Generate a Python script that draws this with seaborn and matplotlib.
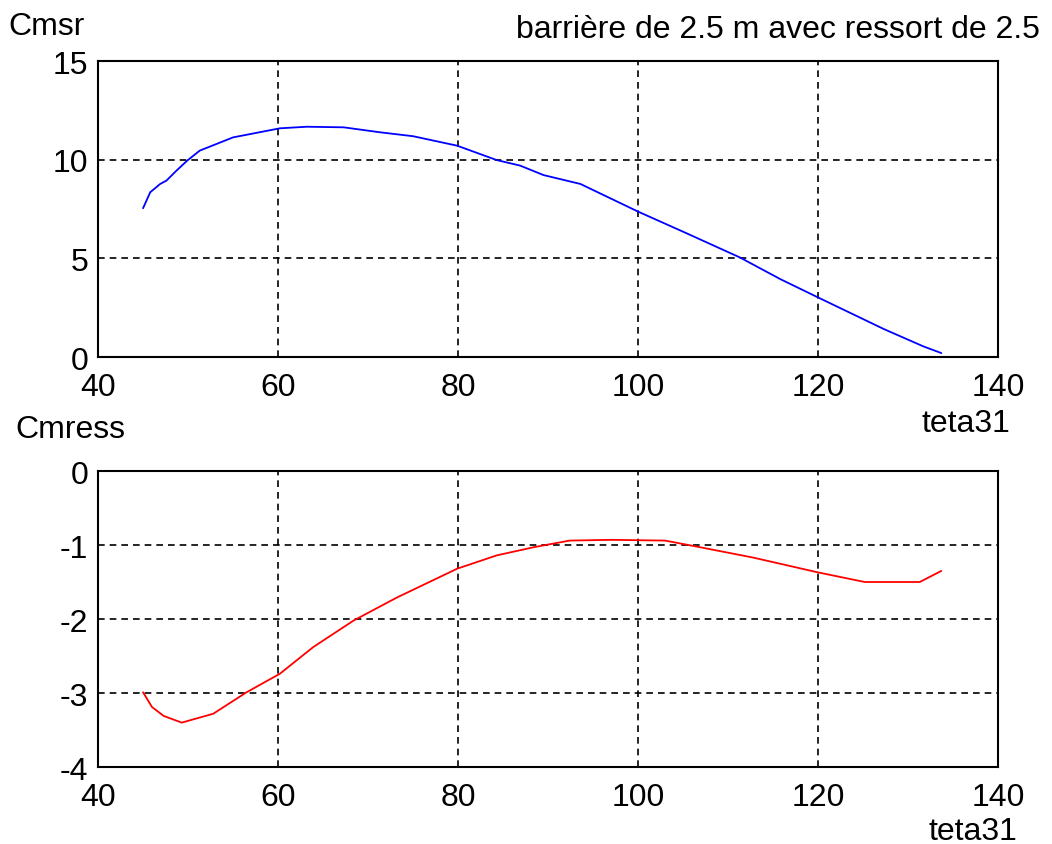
import pandas as pd
import matplotlib
matplotlib.use("Agg")
import matplotlib.pyplot as plt
import seaborn as sns

# data
teta_top = [45, 45.8, 46.9, 47.6, 48.7, 49.9, 51.3, 55, 60.2, 63.2, 67.3, 71.3, 75, 79.9, 84.3,
            86.9, 89.5, 93.6, 100, 105.4, 111.3, 115.8, 120, 127.3, 131.7, 133.7]
cmsr = [7.54, 8.35, 8.77, 8.94, 9.44, 9.95, 10.46, 11.13, 11.59, 11.67, 11.64, 11.39, 11.19, 10.71, 9.98,
        9.70, 9.22, 8.77, 7.37, 6.27, 5.05, 3.95, 3.02, 1.42, 0.54, 0.20]

teta_bot = [45, 46, 47.3, 49.3, 52.8, 56.5, 60.2, 63.9, 68.4, 73.2, 79.9, 84.3,
            88.4, 92.4, 97, 103, 106.9, 112.8, 120, 125.2, 131.3, 133.7]
cmress = [-2.99, -3.19, -3.31, -3.40, -3.28, -2.99, -2.74, -2.38, -2.02, -1.71, -1.32, -1.14,
          -1.03, -0.94, -0.93, -0.94, -1.03, -1.17, -1.37, -1.50, -1.50, -1.35]

x_ticks = [40, 60, 80, 100, 120, 140]
top_yticks = [0, 5, 10, 15]
bot_yticks = [-4, -3, -2, -1, 0]

title = "barrière de 2.5 m avec ressort de 2.5"

sns.set_style("white")
plt.rcParams['font.family'] = ['Liberation Sans', 'DejaVu Sans']
plt.rcParams['axes.unicode_minus'] = False
plt.rcParams['text.color'] = 'black'
fs = 23

df_top = pd.DataFrame({'teta31': teta_top, 'Cmsr': cmsr})
df_bot = pd.DataFrame({'teta31': teta_bot, 'Cmress': cmress})

fig = plt.figure(figsize=(10.52, 8.45), dpi=100)
ax1 = fig.add_axes([0.0932, 0.5763, 0.8555, 0.3503])
ax2 = fig.add_axes([0.0932, 0.0911, 0.8555, 0.3503])

sns.lineplot(data=df_top, x='teta31', y='Cmsr', color='#0000ff', lw=1.3, ax=ax1)
sns.lineplot(data=df_bot, x='teta31', y='Cmress', color='#ff0000', lw=1.3, ax=ax2)

for ax, yt in [(ax1, top_yticks), (ax2, bot_yticks)]:
    ax.set_xlim(40, 140)
    ax.set_ylim(yt[0], yt[-1])
    ax.set_xticks(x_ticks)
    ax.set_yticks(yt)
    ax.grid(True, color='black', linestyle=(0, (4, 3)), linewidth=1.2)
    ax.tick_params(labelsize=fs, direction='in', length=4, width=1, colors='black')
    ax.tick_params(axis='x', pad=11)
    ax.tick_params(axis='y', pad=7)
    for s in ax.spines.values():
        s.set_color('black')
        s.set_linewidth(1.5)
    ax.set_xlabel('')
    ax.set_ylabel('')

ax1.text(-0.10, 1.091, 'Cmsr', transform=ax1.transAxes, fontsize=fs, ha='left', va='baseline')
ax1.text(1.0467, 1.081, title, transform=ax1.transAxes, fontsize=fs, ha='right', va='baseline')
ax1.text(1.0133, -0.25, 'teta31', transform=ax1.transAxes, fontsize=fs, ha='right', va='baseline')
ax2.text(-0.0922, 1.115, 'Cmress', transform=ax2.transAxes, fontsize=fs, ha='left', va='baseline')
ax2.text(1.0211, -0.243, 'teta31', transform=ax2.transAxes, fontsize=fs, ha='right', va='baseline')

fig.savefig('out.png', dpi=100)
